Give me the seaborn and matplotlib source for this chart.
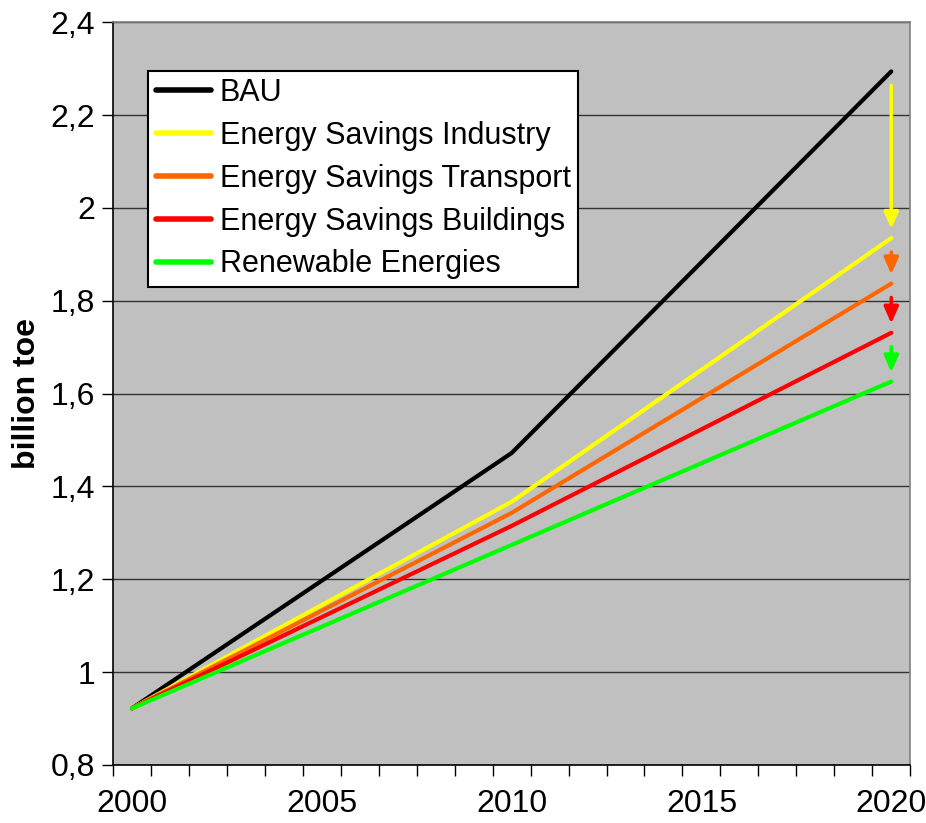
import numpy as np
import pandas as pd
import seaborn as sns
import matplotlib.pyplot as plt
from matplotlib.ticker import FixedLocator, FuncFormatter

# values (billion toe)
years = [2000, 2010, 2020]
bau = [0.922, 1.472, 2.294]
industry = [0.922, 1.367, 1.935]
transport = [0.922, 1.343, 1.837]
buildings = [0.922, 1.315, 1.731]
renewables = [0.922, 1.274, 1.626]

series_names = ["BAU", "Energy Savings Industry", "Energy Savings Transport",
                "Energy Savings Buildings", "Renewable Energies"]
colors = ["#000000", "#FFFF00", "#FF6600", "#FF0000", "#00FF00"]


def main():
    df = pd.DataFrame({"year": years * 5,
                       "value": bau + industry + transport + buildings + renewables,
                       "series": [n for n in series_names for _ in years]})

    sns.set_style("white")
    plt.rcParams['font.family'] = ['Liberation Sans', 'DejaVu Sans']
    plt.rcParams['text.color'] = 'black'
    plt.rcParams['axes.labelcolor'] = 'black'
    plt.rcParams['xtick.color'] = 'black'
    plt.rcParams['ytick.color'] = 'black'

    fig = plt.figure(figsize=(9.26, 8.23), dpi=100)
    ax = fig.add_axes([0.122, 0.0705, 0.861, 0.9025])
    ax.set_facecolor("#C0C0C0")

    sns.lineplot(data=df, x="year", y="value", hue="series", hue_order=series_names,
                 palette=colors, linewidth=3, ax=ax, legend=True)

    # arrows at 2020 showing each step of savings
    ends = [bau[-1], industry[-1], transport[-1], buildings[-1], renewables[-1]]
    for i in range(1, 5):
        ax.annotate("", xy=(2020, ends[i] + 0.02), xytext=(2020, ends[i - 1] - 0.03),
                    arrowprops=dict(arrowstyle="-|>,head_length=0.5,head_width=0.22",
                                    color=colors[i], lw=2.5,
                                    mutation_scale=20, shrinkA=0, shrinkB=0))

    ax.set_xlim(1999.5, 2020.5)
    ax.set_ylim(0.8, 2.4)
    ax.yaxis.set_major_locator(FixedLocator(np.arange(0.8, 2.41, 0.2)))
    ax.yaxis.set_major_formatter(FuncFormatter(lambda v, p: ("%g" % round(v, 1)).replace(".", ",")))
    ax.xaxis.set_major_locator(FixedLocator([2000, 2005, 2010, 2015, 2020]))
    ax.xaxis.set_minor_locator(FixedLocator(np.arange(1999.5, 2020.6, 1)))
    ax.tick_params(axis="x", which="both", bottom=True)
    ax.tick_params(axis="x", which="major", length=0, labelsize=23, pad=17)
    ax.tick_params(axis="x", which="minor", length=8, width=1, color="black", direction="out")
    ax.tick_params(axis="y", left=True, length=8, width=1, color="black", labelsize=23,
                   pad=5, direction="out")

    ax.grid(axis="y", color="#333333", linewidth=1)
    ax.set_axisbelow(True)
    for s in ["left", "bottom"]:
        ax.spines[s].set_color("black")
        ax.spines[s].set_linewidth(1.2)
    for s in ["top", "right"]:
        ax.spines[s].set_color("#808080")
        ax.spines[s].set_linewidth(1.2)

    ax.set_xlabel("")
    ax.set_ylabel("billion toe", fontsize=23, fontweight="bold", labelpad=6)

    leg = ax.legend(loc="upper left", bbox_to_anchor=(0.044, 0.935), fontsize=22,
                    frameon=True, fancybox=False, framealpha=1, edgecolor="black",
                    handlelength=1.8, handletextpad=0.3, borderpad=0.25,
                    labelspacing=0.42, borderaxespad=0)
    leg.get_frame().set_linewidth(1.5)
    for line in leg.get_lines():
        line.set_linewidth(4)
        line.set_solid_capstyle("round")

    fig.savefig("out.png", dpi=100)


if __name__ == "__main__":
    main()
